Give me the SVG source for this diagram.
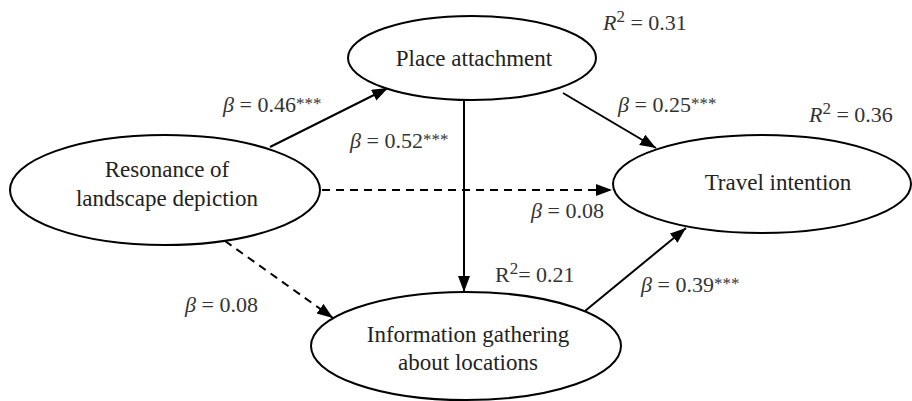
<svg xmlns="http://www.w3.org/2000/svg" width="912" height="401" viewBox="0 0 912 401">
<defs>
<style>
.node{fill:#fff;stroke:#000;stroke-width:2}
.t{font-family:'Liberation Serif','DejaVu Serif','Times New Roman',serif;font-size:23px;fill:#222;text-anchor:middle}
.l{font-family:'Liberation Serif','DejaVu Serif','Times New Roman',serif;font-size:22px;fill:#333}
.b{font-style:italic}
.s{font-size:17px}
.e{stroke:#000;stroke-width:2;fill:none}
.d{stroke-dasharray:8 6}
</style>
<marker id="ah" markerUnits="userSpaceOnUse" markerWidth="18" markerHeight="14" refX="16" refY="6" orient="auto">
<path d="M0,0 L16,6 L0,12 z" fill="#000"/>
</marker>
</defs>
<rect width="912" height="401" fill="#fff"/>
<g id="connectors">
<line class="e" x1="270" y1="147" x2="388" y2="88" marker-end="url(#ah)"/>
<line class="e" x1="563" y1="93" x2="656" y2="148" marker-end="url(#ah)"/>
<line class="e" x1="464" y1="100" x2="464" y2="292" marker-end="url(#ah)"/>
<line class="e d" x1="322" y1="190" x2="612" y2="190" marker-end="url(#ah)"/>
<line class="e d" x1="225" y1="241" x2="333" y2="318" marker-end="url(#ah)"/>
<line class="e" x1="585" y1="311" x2="686" y2="228" marker-end="url(#ah)"/>
</g>
<g id="place">
<ellipse class="node" cx="472" cy="58" rx="124" ry="42"/>
<text class="t" x="474" y="66">Place attachment</text>
</g>
<g id="resonance">
<ellipse class="node" cx="165" cy="190" rx="155" ry="55"/>
<text class="t" x="167" y="177">Resonance of</text>
<text class="t" x="167" y="206">landscape depiction</text>
</g>
<g id="travel">
<ellipse class="node" cx="762" cy="184" rx="149" ry="49"/>
<text class="t" x="778" y="190">Travel intention</text>
</g>
<g id="info">
<ellipse class="node" cx="466" cy="346" rx="155" ry="54"/>
<text class="t" x="468" y="342">Information gathering</text>
<text class="t" x="468" y="370">about locations</text>
</g>
<g id="labels">
<text class="l" x="223" y="112"><tspan class="b">β</tspan> = 0.46<tspan class="s" dy="-3">***</tspan></text>
<text class="l" x="350" y="148"><tspan class="b">β</tspan> = 0.52<tspan class="s" dy="-3">***</tspan></text>
<text class="l" x="603" y="30"><tspan class="b">R</tspan><tspan class="s" dy="-8">2</tspan><tspan dy="8"> = 0.31</tspan></text>
<text class="l" x="618" y="112"><tspan class="b">β</tspan> = 0.25<tspan class="s" dy="-3">***</tspan></text>
<text class="l" x="809" y="122"><tspan class="b">R</tspan><tspan class="s" dy="-8">2</tspan><tspan dy="8"> = 0.36</tspan></text>
<text class="l" x="531" y="218"><tspan class="b">β</tspan> = 0.08</text>
<text class="l" x="495" y="282">R<tspan class="s" dy="-8">2</tspan><tspan dy="8">= 0.21</tspan></text>
<text class="l" x="641" y="292"><tspan class="b">β</tspan> = 0.39<tspan class="s" dy="-3">***</tspan></text>
<text class="l" x="185" y="312"><tspan class="b">β</tspan> = 0.08</text>
</g>
</svg>
